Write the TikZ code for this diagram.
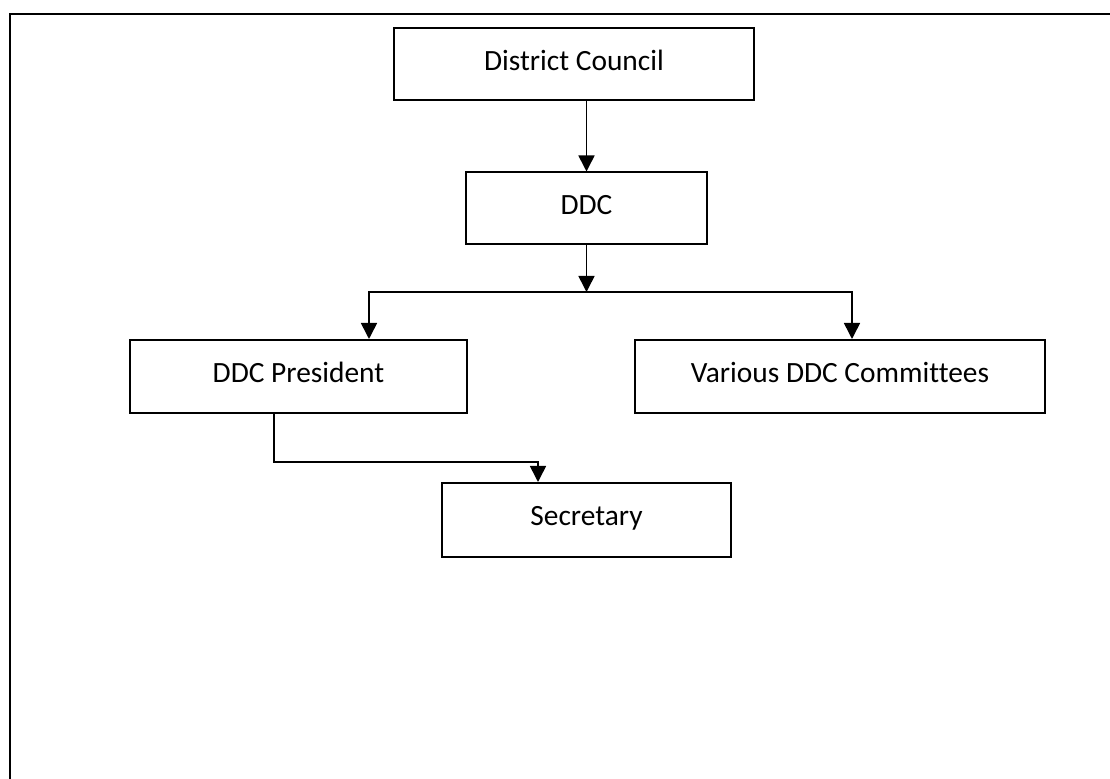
\documentclass[tikz,border=0pt]{standalone}
\usepackage{fontspec}
\setmainfont{Carlito}[Ligatures=NoCommon]
\usetikzlibrary{arrows.meta, positioning}

\begin{document}
\begin{tikzpicture}[
  x=0.5pt, y=-0.5pt,
  box/.style={rectangle, draw=black, line width=1pt,
    inner xsep=0pt, inner ysep=0pt, text height=21pt, text depth=15pt,
    font=\fontsize{14.7pt}{17pt}\selectfont},
  arrow/.style={-{Triangle[length=8pt, width=8pt]}, line width=0.8pt},
  frame/.style={line width=1.3pt}
]
\useasboundingbox (0,0) rectangle (1110,779);

% Outer frame (top and left edges)
\draw[frame] (1110,14) -- (10,14) -- (10,779);

% Top of the chart
\node[box, minimum width=180pt] (council) at (574,64.5) {District Council};
\node[box, minimum width=120.5pt] (ddc) at (586.5,208.5) {DDC};

% Second row
\node[box, minimum width=168.5pt, minimum height=36.5pt] (president) at (298.5,376.5) {DDC President};
\node[box, minimum width=205pt, minimum height=36.5pt, right=83pt of president] (committees) {Various DDC Committees};

% Third row
\node[box, minimum width=144.5pt, minimum height=37pt] (secretary) at (586.5,520) {Secretary};

% Branch point
\coordinate (split) at (586.5,292);

% Arrows
\draw[arrow] (ddc.north |- council.south) -- (ddc.north);
\draw[arrow] (ddc.south) -- (split);
\draw[arrow] (split) -| ([xshift=35.25pt]president.north);
\draw[arrow] (split) -| ([xshift=6pt]committees.north);
\draw[arrow] ([xshift=-12.25pt]president.south) -- ++(0,48) -| ([xshift=-24.25pt]secretary.north);
\end{tikzpicture}
\end{document}
